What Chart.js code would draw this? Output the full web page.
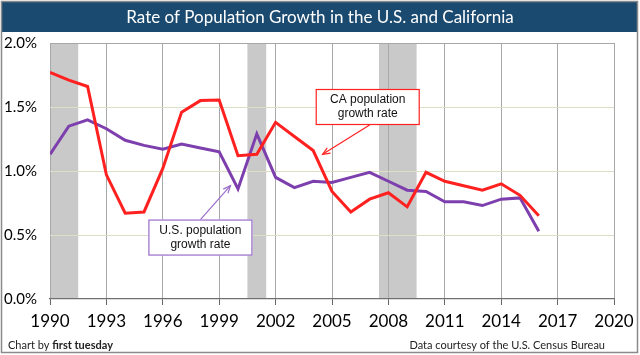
<!DOCTYPE html>
<html>
<head>
<meta charset="utf-8">
<script src="https://cdn.jsdelivr.net/npm/chart.js@4.4.1/dist/chart.umd.min.js"></script>
<style>
html,body{margin:0;padding:0;background:#fff;}
#wrap{width:640px;height:355px;position:relative;}
canvas{display:block;}
</style>
</head>
<body>
<div id="wrap"><canvas id="c" width="640" height="355"></canvas></div>
<script>
// ---- data ----
const years = [1990,1991,1992,1993,1994,1995,1996,1997,1998,1999,2000,2001,2002,2003,2004,2005,2006,2007,2008,2009,2010,2011,2012,2013,2014,2015,2016];
const caRate = [1.77,1.71,1.66,0.97,0.67,0.68,1.02,1.46,1.55,1.555,1.12,1.13,1.38,1.27,1.16,0.84,0.68,0.78,0.83,0.72,0.99,0.92,0.885,0.85,0.90,0.81,0.65];
const usRate = [1.13,1.35,1.40,1.33,1.24,1.20,1.17,1.21,1.18,1.15,0.86,1.29,0.95,0.87,0.92,0.91,0.95,0.99,0.92,0.85,0.84,0.76,0.76,0.73,0.78,0.79,0.53];
const xTicks = [1990,1993,1996,1999,2002,2005,2008,2011,2014,2017,2020];
const yTicks = [0,0.5,1.0,1.5,2.0];
const recessionStart = [1990,2000.5,2007.5];
const recessionEnd = [1991.5,2001.5,2009.5];
const titleText = 'Rate of Population Growth in the U.S. and California';
const caLabel = ['CA population','growth rate'];
const usLabel = ['U.S. population','growth rate'];
// annotation anchors in data units: [boxYear, boxValue, arrowFromYear, arrowFromValue, arrowToYear, arrowToValue]
const caNote = [2006.9, 1.50, 2007.0, 1.36, 2004.5, 1.13];
const usNote = [1998.0, 0.48, 1998.0, 0.62, 1999.6, 0.885];

const RED = '#ff2020';
const PURPLE = '#7e3fae';

const shadePlugin = {
  id: 'shade',
  beforeDraw(chart) {
    const {ctx, chartArea: a, scales: {x}} = chart;
    ctx.save();
    ctx.fillStyle = '#c9c9c9';
    for (let i = 0; i < recessionStart.length; i++) {
      const x0 = x.getPixelForValue(recessionStart[i]);
      const x1 = x.getPixelForValue(recessionEnd[i]);
      ctx.fillRect(x0, a.top, x1 - x0, a.bottom - a.top);
    }
    ctx.restore();
  }
};

function drawNote(ctx, x, y, note, lines, color) {
  const bx = x.getPixelForValue(note[0]), by = y.getPixelForValue(note[1]);
  const w = 104, h = 36;
  const fx = x.getPixelForValue(note[2]), fy = y.getPixelForValue(note[3]);
  const tx = x.getPixelForValue(note[4]), ty = y.getPixelForValue(note[5]);
  ctx.save();
  ctx.strokeStyle = color; ctx.fillStyle = color; ctx.lineWidth = 1.2;
  ctx.beginPath(); ctx.moveTo(fx, fy); ctx.lineTo(tx, ty); ctx.stroke();
  const ang = Math.atan2(ty - fy, tx - fx);
  const L = 8, W = 0.4;
  ctx.beginPath();
  ctx.moveTo(tx - L*Math.cos(ang - W), ty - L*Math.sin(ang - W));
  ctx.lineTo(tx, ty);
  ctx.lineTo(tx - L*Math.cos(ang + W), ty - L*Math.sin(ang + W));
  ctx.stroke();
  ctx.fillStyle = '#ffffff';
  ctx.fillRect(bx - w/2, by - h/2, w, h);
  ctx.lineWidth = 1.2;
  ctx.strokeRect(bx - w/2 + 0.5, by - h/2 + 0.5, w - 1, h - 1);
  ctx.fillStyle = '#111';
  ctx.font = '12px "Liberation Sans", Arial, sans-serif';
  ctx.textAlign = 'center'; ctx.textBaseline = 'middle';
  ctx.fillText(lines[0], bx, by - 7);
  ctx.fillText(lines[1], bx, by + 7);
  ctx.restore();
}

const framePlugin = {
  id: 'frame',
  beforeDraw(chart) {
    const {ctx} = chart;
    ctx.save();
    ctx.fillStyle = '#1b4a70';
    ctx.fillRect(2, 2, 636, 30);
    ctx.fillStyle = '#ffffff';
    ctx.font = '17px Lato, "Open Sans", sans-serif';
    ctx.textAlign = 'center'; ctx.textBaseline = 'middle';
    ctx.fillText(titleText, 320, 18);
    ctx.restore();
  },
  afterDraw(chart) {
    const {ctx, scales: {x, y}} = chart;
    drawNote(ctx, x, y, caNote, caLabel, RED);
    drawNote(ctx, x, y, usNote, usLabel, '#9a6ccb');
    ctx.save();
    ctx.fillStyle = '#222';
    ctx.textBaseline = 'middle'; ctx.textAlign = 'left';
    ctx.font = '11px Lato, "Open Sans", sans-serif';
    const pre = 'Chart by ';
    ctx.fillText(pre, 8, 345);
    const w = ctx.measureText(pre).width;
    ctx.font = 'bold 11px Lato, "Open Sans", sans-serif';
    ctx.fillText('first tuesday', 8 + w, 345);
    ctx.font = '11px Lato, "Open Sans", sans-serif';
    ctx.textAlign = 'right';
    ctx.fillText('Data courtesy of the U.S. Census Bureau', 605, 345);
    ctx.strokeStyle = '#8a8a8a'; ctx.lineWidth = 1.5;
    ctx.strokeRect(1.5, 1.5, 636, 351);
    ctx.restore();
  }
};

new Chart(document.getElementById('c'), {
  type: 'line',
  data: {
    datasets: [
      { label: 'CA', data: years.map((yr, i) => ({x: yr, y: caRate[i]})), borderColor: RED, borderWidth: 3, pointRadius: 0, tension: 0, fill: false },
      { label: 'US', data: years.map((yr, i) => ({x: yr, y: usRate[i]})), borderColor: PURPLE, borderWidth: 3, pointRadius: 0, tension: 0, fill: false }
    ]
  },
  options: {
    responsive: false,
    animation: false,
    devicePixelRatio: 1,
    layout: { padding: { left: 0, right: 26, top: 43, bottom: 26 } },
    plugins: { legend: { display: false }, tooltip: { enabled: false }, title: { display: false } },
    scales: {
      x: {
        type: 'linear', min: 1990, max: 2020,
        afterBuildTicks: s => { s.ticks = xTicks.map(v => ({value: v})); },
        afterFit: s => { s.height = 30; },
        grid: { color: '#a8a8a8', lineWidth: 1, drawTicks: true, tickLength: 6, tickColor: '#666' },
        border: { display: true, color: '#707070', width: 1.2 },
        ticks: { color: '#000', font: { family: 'Lato, "Open Sans", sans-serif', size: 17 }, padding: 6, maxRotation: 0, callback: v => String(v) }
      },
      y: {
        min: 0, max: 2,
        afterBuildTicks: s => { s.ticks = yTicks.map(v => ({value: v})); },
        afterFit: s => { s.width = 50; },
        grid: { color: c => (c.tick && c.tick.value === 2) ? '#a8a8a8' : (c.tick && c.tick.value === 0 ? 'rgba(0,0,0,0)' : '#dcdfc6'), lineWidth: 1, drawTicks: false },
        border: { display: false },
        ticks: { color: '#000', font: { family: 'Lato, "Open Sans", sans-serif', size: 15 }, padding: 13, callback: v => v.toFixed(1) + '%' }
      }
    }
  },
  plugins: [shadePlugin, framePlugin]
});
</script>
</body>
</html>
